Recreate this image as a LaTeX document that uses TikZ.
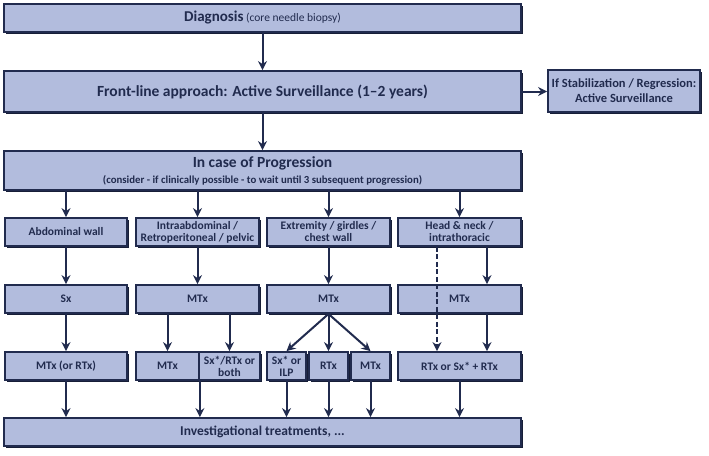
\documentclass[tikz,border=0pt]{standalone}
\usepackage{fontspec}
\setmainfont{Carlito}
\usetikzlibrary{shadows,arrows.meta}
\definecolor{boxfill}{RGB}{178,188,221}
\definecolor{navy}{RGB}{33,43,78}
\tikzset{
  bx/.style={draw=navy, line width=1.8pt, fill=boxfill, text=navy, inner sep=1pt,
    align=center, font=\bfseries\fontsize{11.5}{12}\selectfont,
    general shadow={fill=navy!70!black, shadow xshift=2.4pt, shadow yshift=-2.4pt}},
  arr/.style={draw=navy, line width=2pt, -{Stealth[length=9pt,width=9pt,inset=3pt]}},
  dsh/.style={arr, dash pattern=on 5pt off 2.5pt},
}
\newcommand\mybox[7][]{%
  \node[bx,#1,minimum width={(#5-#3)*1pt},minimum height={(#6-#4)*1pt}]
    (#2) at ({(#3+#5)/2},{(#4+#6)/2}) {#7};}
\begin{document}
\begin{tikzpicture}[x=1pt,y=-1pt]
\useasboundingbox[fill=white] (0,0) rectangle (709,455);
% top
\mybox{diag}{4}{4}{521}{32}{{\fontsize{15}{17}\selectfont Diagnosis} {\mdseries\fontsize{11.5}{12}\selectfont (core needle biopsy)}}
\mybox[font=\bfseries\fontsize{15.5}{17}\selectfont]{front}{4}{71}{521}{112}{Front-line approach: Active Surveillance (1–2 years)}
\mybox[font=\bfseries\fontsize{12.5}{15}\selectfont]{stab}{548}{70}{700}{112}{If Stabilization / Regression:\\Active Surveillance}
\mybox[font=\bfseries\fontsize{15.5}{17}\selectfont]{prog}{4}{151}{521}{190}{In case of Progression\\[-1pt]{\fontsize{10.8}{12}\selectfont (consider - if clinically possible - to wait until 3 subsequent progression)}}
% row 1
\mybox{a1}{5}{218}{127}{246}{Abdominal wall}
\mybox{b1}{136}{218}{259}{246}{Intraabdominal /\\Retroperitoneal / pelvic}
\mybox{c1}{267}{218}{390}{246}{Extremity / girdles /\\chest wall}
\mybox{d1}{398}{218}{521}{246}{Head \& neck /\\intrathoracic}
% row 2
\mybox{a2}{5}{285}{127}{313}{Sx}
\mybox{b2}{136}{285}{259}{313}{MTx}
\mybox{c2}{267}{285}{390}{313}{MTx}
\mybox{d2}{398}{285}{521}{313}{MTx}
% row 3
\mybox{a3}{5}{352}{127}{380}{MTx (or RTx)}
\mybox{b3a}{136}{352}{199}{380}{MTx}
\mybox{b3b}{199}{352}{260}{380}{Sx*/RTx or\\both}
\mybox{c3a}{267}{352}{306}{380}{Sx* or\\ILP}
\mybox{c3b}{309}{352}{348}{380}{RTx}
\mybox{c3c}{351}{352}{390}{380}{MTx}
\mybox{d3}{398}{352}{521}{380}{RTx or Sx* + RTx}
% bottom
\mybox[font=\bfseries\fontsize{13.5}{15}\selectfont]{inv}{4}{418}{521}{446}{Investigational treatments, ...}
% connectors
\draw[arr] (diag.south) -- (front.north);
\draw[arr] (front.east) -- (front.east -| stab.west);
\draw[arr] (front.south) -- (prog.north);
\foreach \n in {a1,b1,c1,d1}{\draw[arr] (prog.south -| \n.north) -- (\n.north);}
\draw[arr] (a1.south) -- (a2.north);
\draw[arr] (a2.south) -- (a3.north);
\draw[arr] (a3.south) -- (inv.north -| a3.south);
\draw[arr] (b1.south) -- (b2.north);
\draw[arr] (b2.south -| b3a.north) -- (b3a.north);
\draw[arr] (b2.south -| b3b.north) -- (b3b.north);
\draw[arr] (b3a.south east) -- (inv.north -| b3a.south east);
\draw[arr] (c1.south) -- (c2.north);
\foreach \n in {c3a,c3b,c3c}{
  \draw[arr] (c2.south) -- (\n.north);
  \draw[arr] (\n.south) -- (inv.north -| \n.south);}
\draw[dsh] ([xshift=-22.5pt]d1.south) -- ([xshift=-22.5pt]d3.north);
\draw[arr] ([xshift=27.5pt]d1.south) -- ([xshift=27.5pt]d2.north);
\draw[arr] ([xshift=27.5pt]d2.south) -- ([xshift=27.5pt]d3.north);
\draw[arr] (d3.south) -- (inv.north -| d3.south);
\end{tikzpicture}
\end{document}
